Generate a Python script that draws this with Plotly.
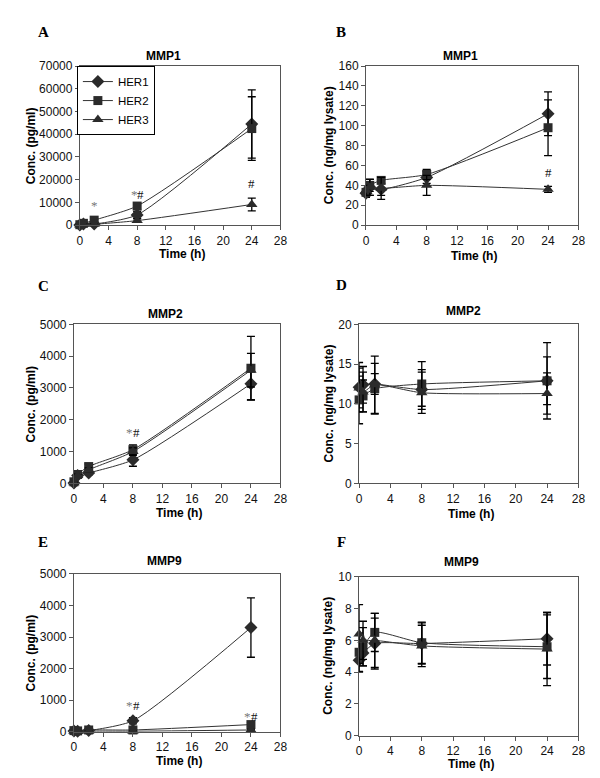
import plotly.graph_objects as go

W, H = 600, 778

times = [0, 0.5, 2, 8, 24]
series_names = ["HER1", "HER2", "HER3"]

# Panel A: MMP1 secreted (pg/ml)
a_her1 = [100, 500, 500, 4500, 44500]
a_her1_err = [100, 200, 300, 1500, 15000]
a_her2 = [200, 800, 2200, 8400, 42500]
a_her2_err = [100, 300, 500, 1500, 14000]
a_her3 = [100, 300, 400, 2000, 9100]
a_her3_err = [50, 100, 200, 800, 2800]

# Panel B: MMP1 lysate (ng/mg lysate)
b_her1 = [32, 38, 36, 48, 112]
b_her1_err = [4, 8, 6, 6, 22]
b_her2 = [33, 40, 45, 51, 98]
b_her2_err = [4, 6, 3, 5, 28]
b_her3 = [35, 38, 37, 40, 36]
b_her3_err = [5, 8, 11, 10, 3]

# Panel C: MMP2 secreted (pg/ml)
c_her1 = [10, 250, 330, 740, 3130]
c_her1_err = [10, 40, 60, 200, 500]
c_her2 = [50, 280, 530, 1060, 3620]
c_her2_err = [10, 50, 80, 150, 1000]
c_her3 = [20, 250, 430, 1000, 3560]
c_her3_err = [10, 40, 60, 120, 530]

# Panel D: MMP2 lysate (ng/mg lysate)
d_her1 = [12.1, 12.4, 12.5, 11.8, 12.9]
d_her1_err = [3.1, 2.3, 1.3, 2.5, 4.8]
d_her2 = [10.5, 11.0, 11.9, 12.5, 12.9]
d_her2_err = [3.0, 2.0, 3.2, 2.8, 3.0]
d_her3 = [12.0, 11.5, 12.4, 11.4, 11.3]
d_her3_err = [2.5, 2.5, 3.6, 2.6, 2.6]

# Panel E: MMP9 secreted (pg/ml)
e_her1 = [30, 20, 40, 350, 3300]
e_her1_err = [10, 10, 20, 100, 940]
e_her2 = [40, 30, 60, 60, 230]
e_her2_err = [10, 10, 20, 20, 60]
e_her3 = [20, 10, 20, 20, 60]
e_her3_err = [5, 5, 10, 10, 20]

# Panel F: MMP9 lysate (ng/mg lysate)
f_her1 = [4.75, 5.2, 5.8, 5.8, 6.1]
f_her1_err = [0.75, 0.8, 1.6, 1.3, 1.65]
f_her2 = [5.25, 5.6, 6.5, 5.85, 5.6]
f_her2_err = [1.2, 1.2, 1.2, 1.3, 2.0]
f_her3 = [6.4, 6.0, 6.0, 5.65, 5.45]
f_her3_err = [1.85, 1.2, 1.7, 1.3, 2.3]

panels = [
    dict(letter="A", title="MMP1", ylabel="Conc. (pg/ml)", yrange=[0, 70000], dtick=10000,
         data=[(a_her1, a_her1_err), (a_her2, a_her2_err), (a_her3, a_her3_err)],
         box=(70, 274, 52, 214), letter_pos=(33, 17), title_pos=(155, 42),
         ylab_x=20, xlab_y=243,
         marks=[(2, 8800, "*", "#777"), (7.6, 13400, "*", "#777"), (8.5, 13400, "#", "#111"),
                (24, 18200, "#", "#111")]),
    dict(letter="B", title="MMP1", ylabel="Conc. (ng/mg lysate)", yrange=[0, 160], dtick=20,
         data=[(b_her1, b_her1_err), (b_her2, b_her2_err), (b_her3, b_her3_err)],
         box=(361, 577, 52, 214), letter_pos=(336, 17), title_pos=(457, 42),
         ylab_x=323, xlab_y=245,
         marks=[(24, 52.5, "#", "#111")]),
    dict(letter="C", title="MMP2", ylabel="Conc. (pg/ml)", yrange=[0, 5000], dtick=1000,
         data=[(c_her1, c_her1_err), (c_her2, c_her2_err), (c_her3, c_her3_err)],
         box=(64, 274, 315, 477), letter_pos=(33, 276), title_pos=(157, 304),
         ylab_x=20, xlab_y=507,
         marks=[(7.6, 1600, "*", "#777"), (8.5, 1600, "#", "#111")]),
    dict(letter="D", title="MMP2", ylabel="Conc. (ng/mg lysate)", yrange=[0, 20], dtick=5,
         data=[(d_her1, d_her1_err), (d_her2, d_her2_err), (d_her3, d_her3_err)],
         box=(354, 577, 315, 477), letter_pos=(336, 275), title_pos=(460, 301),
         ylab_x=323, xlab_y=508, marks=[]),
    dict(letter="E", title="MMP9", ylabel="Conc. (pg/ml)", yrange=[0, 5000], dtick=1000,
         data=[(e_her1, e_her1_err), (e_her2, e_her2_err), (e_her3, e_her3_err)],
         box=(64, 274, 569, 730), letter_pos=(33, 537), title_pos=(156, 556),
         ylab_x=20, xlab_y=760,
         marks=[(7.6, 830, "*", "#777"), (8.5, 830, "#", "#111"),
                (23.6, 500, "*", "#777"), (24.5, 500, "#", "#111")]),
    dict(letter="F", title="MMP9", ylabel="Conc. (ng/mg lysate)", yrange=[0, 10], dtick=2,
         data=[(f_her1, f_her1_err), (f_her2, f_her2_err), (f_her3, f_her3_err)],
         box=(354, 577, 572, 734), letter_pos=(336, 537), title_pos=(458, 557),
         ylab_x=323, xlab_y=763, marks=[]),
]

symbols = ["diamond", "square", "triangle-up"]
msizes = [10, 9, 10]
FONT = "Liberation Sans, Arial, sans-serif"

fig = go.Figure()
layout = {}
annotations = []

def px(x):
    return x / W

def py(y):
    return 1 - y / H

for i, p in enumerate(panels):
    n = i + 1
    xa = "xaxis" if n == 1 else f"xaxis{n}"
    ya = "yaxis" if n == 1 else f"yaxis{n}"
    xr = "x" if n == 1 else f"x{n}"
    yr = "y" if n == 1 else f"y{n}"
    x0, x1, y0, y1 = p["box"]
    for s, (vals, errs) in enumerate(p["data"]):
        fig.add_trace(go.Scatter(
            x=times, y=vals, name=series_names[s], xaxis=xr, yaxis=yr,
            mode="lines+markers", line=dict(color="#333333", width=1, shape="spline", smoothing=0.6),
            marker=dict(symbol=symbols[s], size=msizes[s], color="#2b2b2b"),
            error_y=dict(type="data", array=errs, visible=True, color="#000000",
                         thickness=1.3, width=4),
            cliponaxis=False, showlegend=(i == 0), legendgroup=series_names[s]))
    layout[xa] = dict(domain=[px(x0), px(x1)], range=[0, 28], dtick=4, tick0=0,
                      anchor=yr, showline=True, mirror=True, linecolor="#555555", linewidth=1,
                      ticks="outside", ticklen=4, tickcolor="#555555", showgrid=False,
                      zeroline=False, tickfont=dict(family=FONT, size=12, color="#111"))
    layout[ya] = dict(domain=[py(y1), py(y0)], range=p["yrange"], dtick=p["dtick"], tick0=0,
                      anchor=xr, showline=True, mirror=True, linecolor="#555555", linewidth=1,
                      ticks="outside", ticklen=4, tickcolor="#555555", showgrid=False,
                      zeroline=False, tickformat="d",
                      tickfont=dict(family=FONT, size=12, color="#111"))
    annotations.append(dict(text="<b>" + p["letter"] + "</b>", x=px(p["letter_pos"][0]),
                            y=py(p["letter_pos"][1]), xref="paper", yref="paper",
                            showarrow=False, xanchor="center", yanchor="middle",
                            font=dict(family="Liberation Serif, Times New Roman, serif",
                                      size=15, color="#000")))
    annotations.append(dict(text="<b>" + p["title"] + "</b>", x=px(p["title_pos"][0]),
                            y=py(p["title_pos"][1]), xref="paper", yref="paper",
                            showarrow=False, xanchor="center", yanchor="middle",
                            font=dict(family=FONT, size=12, color="#000")))
    annotations.append(dict(text="<b>" + p["ylabel"] + "</b>", x=px(p["ylab_x"]),
                            y=py((y0 + y1) / 2), xref="paper", yref="paper", textangle=-90,
                            showarrow=False, xanchor="center", yanchor="middle",
                            font=dict(family=FONT, size=12, color="#000")))
    annotations.append(dict(text="<b>Time (h)</b>", x=px((x0 + x1) / 2 + 2),
                            y=py(p["xlab_y"]), xref="paper", yref="paper",
                            showarrow=False, xanchor="center", yanchor="middle",
                            font=dict(family=FONT, size=12, color="#000")))
    for (mx, my, mt, mc) in p["marks"]:
        annotations.append(dict(text=mt, x=mx, y=my, xref=xr, yref=yr, showarrow=False,
                                xanchor="center", yanchor="middle",
                                font=dict(family="Liberation Serif, Times New Roman, serif",
                                          size=13, color=mc)))

fig.update_layout(
    width=W, height=H, margin=dict(l=0, r=0, t=0, b=0),
    paper_bgcolor="white", plot_bgcolor="white",
    showlegend=True,
    legend=dict(x=px(67), y=py(52), xanchor="left", yanchor="top",
                bordercolor="#000", borderwidth=1, bgcolor="white",
                font=dict(family=FONT, size=11.5, color="#000"),
                tracegroupgap=0, itemwidth=30),
    annotations=annotations,
    **layout)

fig.write_html("out.html")
